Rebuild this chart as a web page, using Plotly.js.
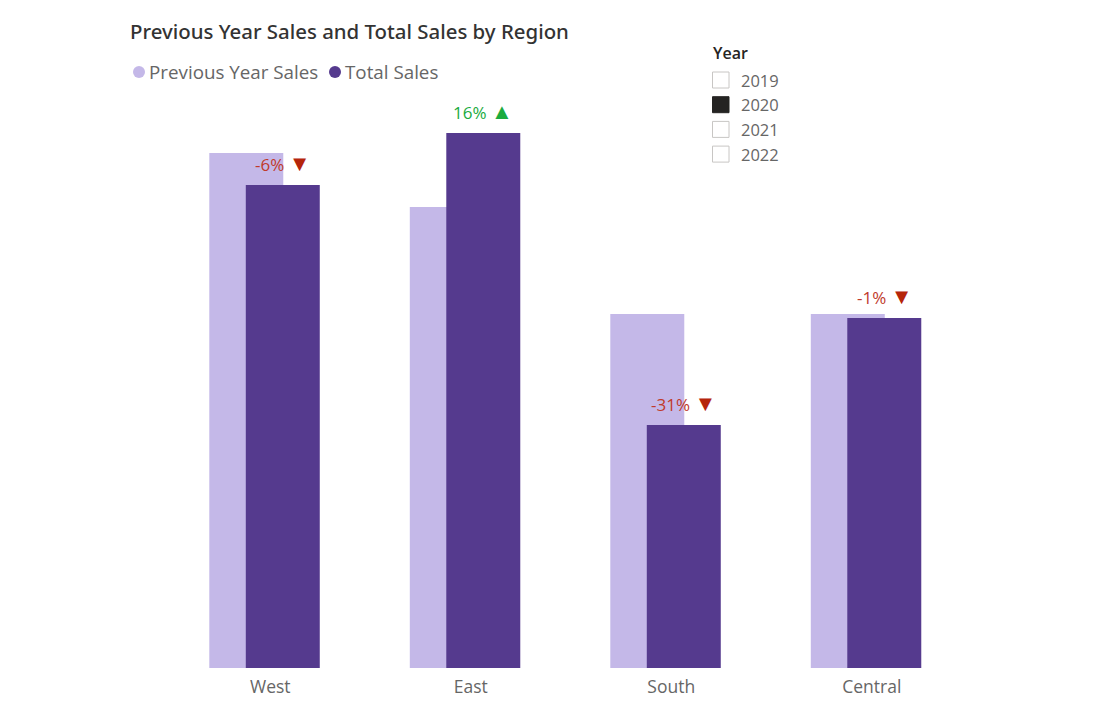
<!DOCTYPE html>
<html>
<head>
<meta charset="utf-8">
<script src="https://cdn.plot.ly/plotly-3.0.1.min.js"></script>
<style>html,body{margin:0;padding:0;background:#fff;}#chart{width:1117px;height:707px;}</style>
</head>
<body>
<div id="chart"></div>
<script>
// Data
const regions = ["West", "East", "South", "Central"];
const previousYearSales = [515, 461, 354, 354];
const totalSales = [483, 535, 243, 350];
const years = ["2019", "2020", "2021", "2022"];
const selectedYear = "2020";

const PY_COLOR = "#C4B8E8";
const TS_COLOR = "#553A8E";
const DOWN_TXT = "#C03A2B";
const DOWN = "#B5250B";
const UP = "#1AAB40";
const FONT = "Open Sans, Noto Sans, sans-serif";

// layout geometry (pixels)
const L = 170, R = 145, T = 100, B = 39, W = 1117, H = 707;
const PW = W - L - R, PH = H - T - B;
const px = v => (v - L) / PW;
const py = v => (H - B - v) / PH;

const traces = [
  {type: "bar", name: "Previous Year Sales", x: regions, y: previousYearSales,
   marker: {color: PY_COLOR}, width: 0.369, offset: -0.304, showlegend: false, hoverinfo: "x+y+name"},
  {type: "bar", name: "Total Sales", x: regions, y: totalSales,
   marker: {color: TS_COLOR}, width: 0.369, offset: -0.122, showlegend: false, hoverinfo: "x+y+name"}
];

const annotations = [];
const shapes = [];

// variance labels
regions.forEach((r, i) => {
  const pct = Math.round((totalSales[i] / previousYearSales[i] - 1) * 100);
  const up = pct >= 0;
  const tc = up ? UP : DOWN_TXT, ic = up ? UP : DOWN;
  annotations.push({
    xref: "x", yref: "y", x: i - 0.122 + 0.369 / 2, y: totalSales[i],
    xanchor: "center", yanchor: "middle", yshift: 23, showarrow: false,
    text: "<span style='color:" + tc + "'>" + pct + "%</span> <span style='color:" + ic + ";font-size:22px'>" + (up ? "▲" : "▼") + "</span>",
    font: {family: FONT, size: 17, color: tc}
  });
});

// custom legend with circle markers
const legendItems = [
  {label: "Previous Year Sales", color: PY_COLOR, cx: 139, tx: 147},
  {label: "Total Sales", color: TS_COLOR, cx: 335, tx: 343}
];
legendItems.forEach(it => {
  shapes.push({type: "circle", xref: "paper", yref: "paper",
    x0: px(it.cx - 6), x1: px(it.cx + 6), y0: py(78), y1: py(66),
    fillcolor: it.color, line: {width: 0}});
  annotations.push({xref: "paper", yref: "paper", x: px(it.tx), y: py(72),
    xanchor: "left", yanchor: "middle", showarrow: false, text: it.label,
    font: {family: FONT, size: 18.8, color: "#666666"}});
});

// Year slicer
annotations.push({xref: "paper", yref: "paper", x: px(711), y: py(53),
  xanchor: "left", yanchor: "middle", showarrow: false, text: "Year",
  font: {family: FONT, size: 16, color: "#252423", weight: 600}});
years.forEach((yr, i) => {
  const top = 72 + i * 24.7;
  const sel = yr === selectedYear;
  shapes.push({type: "rect", xref: "paper", yref: "paper",
    x0: px(712.5), x1: px(729), y0: py(top + 16), y1: py(top),
    fillcolor: sel ? "#252423" : "#FFFFFF",
    line: {color: sel ? "#252423" : "#C8C6C4", width: 1}});
  annotations.push({xref: "paper", yref: "paper", x: px(739), y: py(top + 8),
    xanchor: "left", yanchor: "middle", showarrow: false, text: yr,
    font: {family: FONT, size: 16.5, color: "#666666"}});
});

const layout = {
  width: W, height: H,
  margin: {l: L, r: R, t: T, b: B, pad: 0},
  paper_bgcolor: "#FFFFFF", plot_bgcolor: "#FFFFFF",
  barmode: "overlay",
  showlegend: false,
  title: {text: "Previous Year Sales and Total Sales by Region",
    xref: "container", yref: "container", x: 130 / W, y: 1 - 32 / H,
    xanchor: "left", yanchor: "middle",
    font: {family: "Noto Sans, sans-serif", size: 20.4, color: "#333333", weight: 500}},
  xaxis: {type: "category", range: [-0.5, 3.5], showgrid: false, zeroline: false,
    showline: false, ticks: "", fixedrange: true, ticklabelstandoff: 6,
    tickfont: {family: FONT, size: 17.5, color: "#666666"}},
  yaxis: {range: [0, PH], visible: false, showgrid: false, zeroline: false, fixedrange: true},
  annotations: annotations,
  shapes: shapes
};

Plotly.newPlot("chart", traces, layout, {displayModeBar: false, staticPlot: true});
</script>
</body>
</html>
